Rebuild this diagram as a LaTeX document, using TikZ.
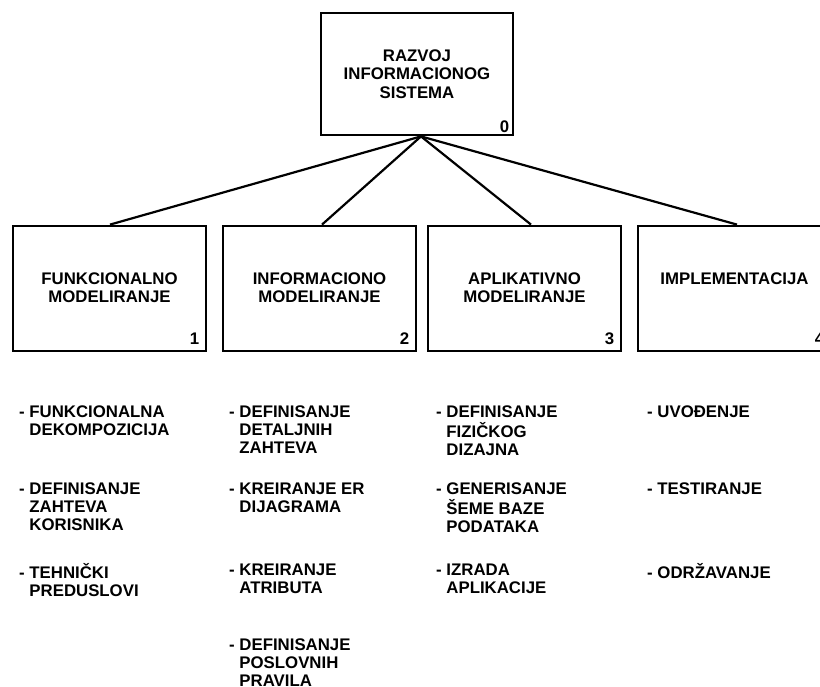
\documentclass[tikz,border=0pt]{standalone}
\usepackage{fontspec}
\setmainfont{Liberation Sans}
% multi-line block whose baseline is its first line
\newcommand\blockc[1]{\begin{tabular}[t]{@{}c@{}}#1\end{tabular}}
% list entry with a hanging dash
\newcommand\dashlist[1]{\begin{tabular}[t]{@{}l@{}l@{}}#1\end{tabular}}
\newcommand\dashmark{\mbox{-~}}
\begin{document}
\begin{tikzpicture}[x=1pt,y=-1pt,
  font=\fontsize{16.8}{18.3}\selectfont\bfseries,
  rootbox/.style={draw, line width=2.8pt, minimum width=192pt, minimum height=122pt,
    inner sep=0pt, align=center},
  phasebox/.style={draw, line width=2.8pt, minimum width=193pt, minimum height=125pt,
    inner sep=0pt},
  title/.style={anchor=base, inner sep=0pt},
  num/.style={anchor=base east, inner sep=0pt},
  entry/.style={anchor=base west, inner sep=0pt},
  link/.style={line width=2.2pt}]
\clip (0,0) rectangle (820,687);

% root process
\node[rootbox] (root) at (417,74) {RAZVOJ\\INFORMACIONOG\\SISTEMA};
\node[num] (n0) at ([xshift=-5pt,yshift=3.5pt]root.south east) {0};

% phases
\node[phasebox] (b1) at (109.5,288.5) {};
\node[phasebox] (b2) at (319.5,288.5) {};
\node[phasebox] (b3) at (524.5,288.5) {};
\node[phasebox] (b4) at (734.5,288.5) {};

\node[title] (t1) at ([yshift=-60pt]b1.north) {\blockc{FUNKCIONALNO\\MODELIRANJE}};
\node[title] (t2) at ([yshift=-60pt]b2.north) {\blockc{INFORMACIONO\\MODELIRANJE}};
\node[title] (t3) at ([yshift=-60pt]b3.north) {\blockc{APLIKATIVNO\\MODELIRANJE}};
\node[title] (t4) at ([yshift=-60pt]b4.north) {\blockc{IMPLEMENTACIJA}};

\node[num] (n1) at ([xshift=-8pt,yshift=8pt]b1.south east) {1};
\node[num] (n2) at ([xshift=-8pt,yshift=8pt]b2.south east) {2};
\node[num] (n3) at ([xshift=-8pt,yshift=8pt]b3.south east) {3};
\node[num] (n4) at ([xshift=-8pt,yshift=8pt]b4.south east) {4};

% decomposition links
\coordinate (hub) at ([xshift=4pt]root.south);
\draw[link] (hub) -- ([xshift=0.5pt]b1.north);
\draw[link] (hub) -- ([xshift=2.5pt]b2.north);
\draw[link] (hub) -- ([xshift=6.5pt]b3.north);
\draw[link] (hub) -- ([xshift=2.5pt]b4.north);

% activities of phase 1
\node[entry] (a11) at (19,417) {\dashlist{\dashmark&FUNKCIONALNA\\&DEKOMPOZICIJA}};
\node[entry] (a12) at (19,494) {\dashlist{\dashmark&DEFINISANJE\\&ZAHTEVA\\&KORISNIKA}};
\node[entry] (a13) at (19,578) {\dashlist{\dashmark&TEHNIČKI\\&PREDUSLOVI}};

% activities of phase 2
\node[entry] (a21) at (229,417) {\dashlist{\dashmark&DEFINISANJE\\&DETALJNIH\\&ZAHTEVA}};
\node[entry] (a22) at (229,494) {\dashlist{\dashmark&KREIRANJE ER\\&DIJAGRAMA}};
\node[entry] (a23) at (229,575) {\dashlist{\dashmark&KREIRANJE\\&ATRIBUTA}};
\node[entry] (a24) at (229,650) {\dashlist{\dashmark&DEFINISANJE\\&POSLOVNIH\\&PRAVILA}};

% activities of phase 3
\node[entry] (a31) at (436,417) {\dashlist{\dashmark&DEFINISANJE\\&FIZIČKOG\\&DIZAJNA}};
\node[entry] (a32) at (436,494) {\dashlist{\dashmark&GENERISANJE\\&ŠEME BAZE\\&PODATAKA}};
\node[entry] (a33) at (436,575) {\dashlist{\dashmark&IZRADA\\&APLIKACIJE}};

% activities of phase 4
\node[entry] (a41) at (647,417) {\dashlist{\dashmark&UVOĐENJE}};
\node[entry] (a42) at (647,494) {\dashlist{\dashmark&TESTIRANJE}};
\node[entry] (a43) at (647,578) {\dashlist{\dashmark&ODRŽAVANJE}};
\end{tikzpicture}
\end{document}
